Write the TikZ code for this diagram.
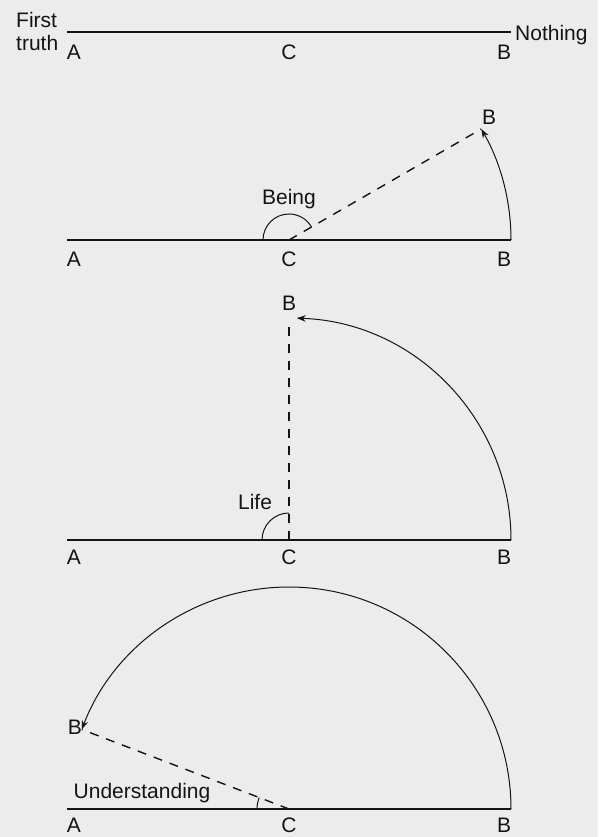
\documentclass[tikz,border=0pt]{standalone}
\usepackage{fontspec}
\setmainfont{Liberation Sans}
\usetikzlibrary{arrows.meta}
\definecolor{paper}{RGB}{236,236,236}
\definecolor{ink}{RGB}{20,20,20}
\begin{document}
\begin{tikzpicture}[x=1pt,y=-1pt,
  base/.style={draw=ink,line width=1.9pt},
  arcline/.style={draw=ink,line width=1pt},
  dashline/.style={draw=ink,line width=1.4pt,dash pattern=on 9pt off 8pt},
  lbl/.style={text=ink,font=\fontsize{21}{21}\selectfont,inner sep=0pt,
              text height=15pt,text depth=0pt},
  tipped/.style={-{Stealth[length=9pt,width=6.5pt]}}]
\fill[paper] (0,0) rectangle (598,837);
\useasboundingbox (0,0) rectangle (598,837);

% ---------- panel 1 ----------
\coordinate (A1) at (67,32);
\coordinate (B1) at (511,32);
\draw[base] (A1) -- (B1);
\node[lbl,anchor=west] (first) at (16,20) {First};
\node[lbl,anchor=west] (truth) at (16,43) {truth};
\node[lbl,anchor=west] (nothing) at (515,33) {Nothing};
\node[lbl] (a1) at (74,52) {A};
\node[lbl] (c1) at (289,52) {C};
\node[lbl] (b1) at (504,52) {B};

% ---------- panel 2 : Being ----------
\coordinate (A2) at (67,240);
\coordinate (C2) at (289,240);
\coordinate (B2) at (511,240);
\coordinate (E2) at ([shift={(30:222pt)}]C2);
\coordinate (s2) at ([shift={(180:26pt)}]C2);
\draw[base] (A2) -- (B2);
\draw[dashline] (C2) -- (E2);
\draw[arcline,tipped] (B2) arc[start angle=0,end angle=30,radius=222pt];
\draw[arcline] (s2) arc[start angle=180,end angle=30,radius=26pt];
\node[lbl] (being) at (289,197) {Being};
\node[lbl] (e2) at (489,117) {B};
\node[lbl] (a2) at (74,259) {A};
\node[lbl] (c2) at (289,259) {C};
\node[lbl] (b2) at (504,259) {B};

% ---------- panel 3 : Life ----------
\coordinate (A3) at (67,540);
\coordinate (C3) at (289,540);
\coordinate (B3) at (511,540);
\coordinate (E3) at (289,321);
\coordinate (s3) at ([shift={(180:27pt)}]C3);
\draw[base] (A3) -- (B3);
\draw[dashline] (C3) -- (E3);
\draw[arcline,tipped] (B3) arc[start angle=0,end angle=88,radius=222pt];
\draw[arcline] (s3) arc[start angle=180,end angle=90,radius=27pt];
\node[lbl] (life) at (255,502) {Life};
\node[lbl] (e3) at (289,303) {B};
\node[lbl] (a3) at (74,557) {A};
\node[lbl] (c3) at (289,557) {C};
\node[lbl] (b3) at (504,557) {B};

% ---------- panel 4 : Understanding ----------
\coordinate (A4) at (67,809);
\coordinate (C4) at (289,809);
\coordinate (B4) at (511,809);
\coordinate (E4) at ([shift={(159:222pt)}]C4);
\coordinate (s4) at ([shift={(180:32pt)}]C4);
\draw[base] (A4) -- (B4);
\draw[dashline] (C4) -- (E4);
\draw[arcline,tipped] (B4) arc[start angle=0,end angle=159,radius=222pt];
\draw[arcline] (s4) arc[start angle=180,end angle=159,radius=32pt];
\node[lbl] (understanding) at (142,791) {Understanding};
\node[lbl,anchor=east] (e4) at (82,727) {B};
\node[lbl] (a4) at (74,825) {A};
\node[lbl] (c4) at (289,825) {C};
\node[lbl] (b4) at (504,825) {B};
\end{tikzpicture}
\end{document}
